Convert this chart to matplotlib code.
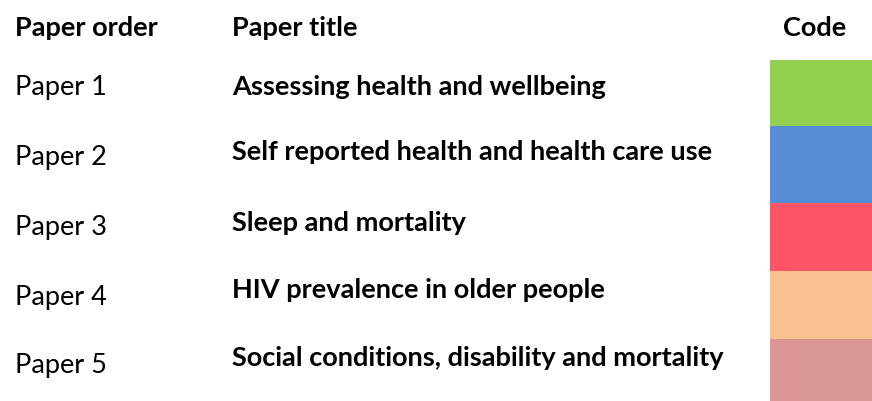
import matplotlib.pyplot as plt

papers = ['Paper 1', 'Paper 2', 'Paper 3', 'Paper 4', 'Paper 5']
titles = ['Assessing health and wellbeing',
          'Self reported health and health care use',
          'Sleep and mortality',
          'HIV prevalence in older people',
          'Social conditions, disability and mortality']
codes = ['#92d050', '#558ed5', '#ff5567', '#f9c090', '#d99694']
headers = ['Paper order', 'Paper title', 'Code']

# layout in pixels
W, H = 872, 401
block_edges = [60, 126, 203, 271, 339, 401]
paper_y = [87, 157, 228, 297, 365]
title_y = [87, 152, 223, 290, 358]

plt.rcParams['font.family'] = ['Lato', 'DejaVu Sans']

fig = plt.figure(figsize=(W / 100, H / 100), dpi=100)
ax = fig.add_axes([0, 0, 1, 1])
ax.set_xlim(0, W)
ax.set_ylim(H, 0)
ax.axis('off')

fs = 19.5
ax.text(15, 28, headers[0], fontsize=fs, fontweight='bold', va='center')
ax.text(232, 28, headers[1], fontsize=fs, fontweight='bold', va='center')
ax.text(815, 28, headers[2], fontsize=fs, fontweight='bold', va='center', ha='center')

for i in range(len(papers)):
    ax.text(15, paper_y[i], papers[i], fontsize=fs, va='center')
    ax.text(232, title_y[i], titles[i], fontsize=fs, fontweight='bold', va='center')
    top = block_edges[i]
    ax.bar(770, block_edges[i + 1] - top, bottom=top, width=W - 770, align='edge',
           color=codes[i], linewidth=0)

fig.savefig('out.png', dpi=100)
